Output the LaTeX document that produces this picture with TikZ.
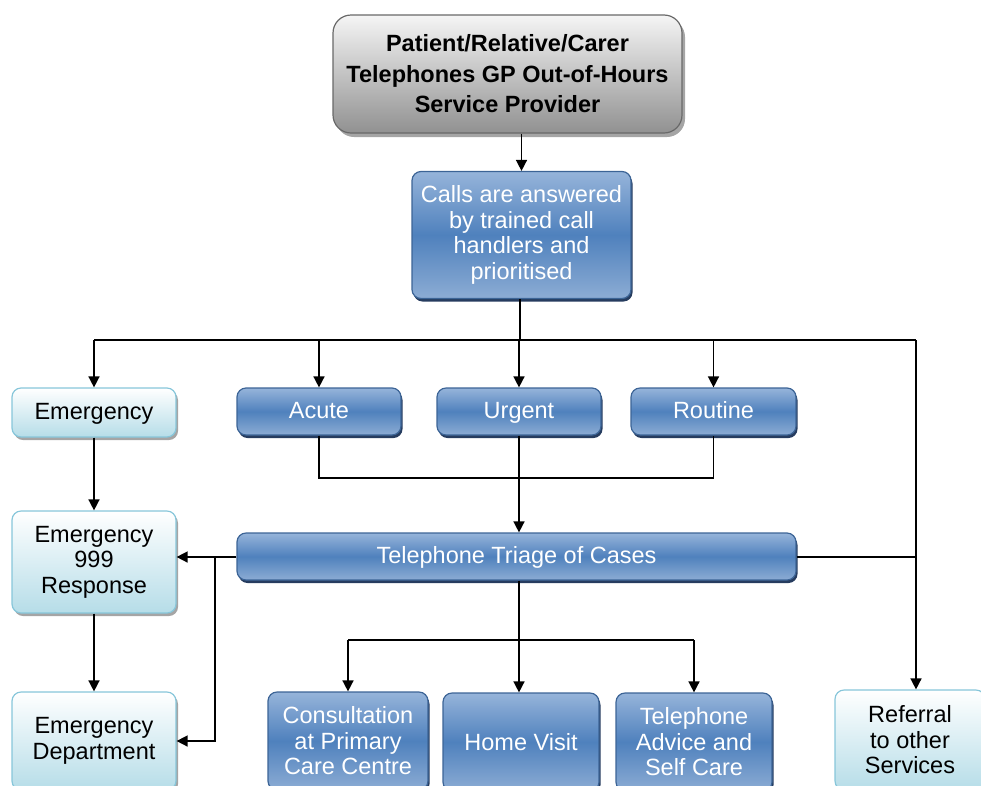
\documentclass[tikz,border=0pt]{standalone}
\usepackage{fontspec}
\setmainfont{Liberation Sans}
\usetikzlibrary{shadows,arrows.meta}

\begin{document}
\begin{tikzpicture}[x=1pt, y=-1pt, font=\fontsize{23.5}{25.5}\selectfont]

\definecolor{cBlueTop}{RGB}{150,180,218}
\definecolor{cBlueMid}{RGB}{79,129,189}
\definecolor{cBlueBot}{RGB}{140,172,212}
\definecolor{cBlueLine}{RGB}{60,100,150}
\definecolor{cBlueShade}{RGB}{38,60,95}
\definecolor{cCyanBot}{RGB}{182,221,232}
\definecolor{cCyanLine}{RGB}{135,198,218}
\definecolor{cGreyBot}{RGB}{145,145,145}
\definecolor{cGreyLine}{RGB}{105,105,105}
\definecolor{cShade}{RGB}{165,165,165}

\tikzset{
  box/.style      = {rounded corners=9pt, align=center, inner sep=0pt, line width=1.2pt},
  oneline/.style  = {text height=17pt, text depth=4pt},
  bluebox/.style  = {box, draw=cBlueLine, top color=cBlueTop, bottom color=cBlueBot,
                     middle color=cBlueMid, text=white,
                     drop shadow={shadow xshift=1.5pt, shadow yshift=-3pt, fill=cBlueShade, opacity=1}},
  cyanbox/.style  = {box, draw=cCyanLine, top color=white, bottom color=cCyanBot,
                     drop shadow={shadow xshift=2pt, shadow yshift=-3pt, fill=cShade, opacity=1}},
  greybox/.style  = {box, rounded corners=18pt, draw=cGreyLine, top color=white!96!black,
                     bottom color=cGreyBot,
                     drop shadow={shadow xshift=3pt, shadow yshift=-4pt, fill=cShade, opacity=1}},
  link/.style     = {line width=1.5pt},
  arr/.style      = {link, -{Triangle[length=11pt, width=11pt]}},
}

\useasboundingbox (0,0) rectangle (981,785);
\clip (0,0) rectangle (981,785);

%% ---------- the call, top ----------
\node[greybox, minimum width=349, minimum height=118,
      font=\fontsize{23.5}{30.5}\selectfont\bfseries] (caller) at (507.5,74)
  {Patient/Relative/Carer\\Telephones GP Out-of-Hours\\Service Provider};
\node[bluebox, minimum width=219, minimum height=127] (calls) at (521.5,235)
  {Calls are answered\\by trained call\\handlers and\\prioritised};

%% ---------- the priorities ----------
\node[cyanbox, oneline, minimum width=164, minimum height=49] (emerg)   at (94,412.5)  {Emergency};
\node[bluebox, oneline, minimum width=164, minimum height=47] (acute)   at (319,411.5) {Acute};
\node[bluebox, oneline, minimum width=164, minimum height=47] (urgent)  at (519,411.5) {Urgent};
\node[bluebox, oneline, minimum width=165, minimum height=47] (routine) at (713.5,411.5) {Routine};

\node[bluebox, oneline, minimum width=559, minimum height=47] (triage) at (516.5,556.5)
  {Telephone Triage of Cases};

%% ---------- the outcomes ----------
\node[cyanbox, minimum width=164, minimum height=102] (resp)    at (94,562)  {Emergency\\999\\Response};
\node[cyanbox, minimum width=164, minimum height=98]  (edept)   at (94,741)  {Emergency\\Department};
\node[bluebox, minimum width=160, minimum height=98]  (consult) at (348,741) {Consultation\\at Primary\\Care Centre};
\node[bluebox, minimum width=156, minimum height=98]  (home)    at (521,742) {Home Visit};
\node[bluebox, minimum width=156, minimum height=98]  (advice)  at (694,742) {Telephone\\Advice and\\Self Care};
\node[cyanbox, minimum width=150, minimum height=100] (refer)   at (910,740) {Referral\\to other\\Services};

%% ---------- the connectors ----------
\coordinate (bus)  at (520,340);
\coordinate (busR) at (916,340);
\coordinate (join) at (519,478);
\coordinate (fork) at (215,557);
\coordinate (tbus) at (519,640);

\draw[arr] (calls.north |- caller.south) -- (calls.north);
\draw[link] (calls.south -| bus) -- (bus);
\draw[link] (bus -| emerg.north) -- (busR);
\draw[arr] (bus -| emerg.north)   -- (emerg.north);
\draw[arr] (bus -| acute.north)   -- (acute.north);
\draw[arr] (bus -| urgent.north)  -- (urgent.north);
\draw[arr] (bus -| routine.north) -- (routine.north);
\draw[arr] (busR) -- (busR |- refer.north);

\draw[link] (acute.south) |- (routine.south |- join) -- (routine.south);
\draw[arr] (urgent.south) -- (urgent.south |- triage.north);

\draw[arr] (emerg) -- (resp);
\draw[arr] (resp) -- (edept);
\draw[arr] (triage.west |- fork) -- (resp.east |- fork);
\draw[arr] (fork) |- (edept.east);
\draw[link] (triage.east |- fork) -- (fork -| busR);

\draw[link] (tbus |- triage.south) -- (tbus);
\draw[link] (tbus -| consult.north) -- (tbus -| advice.north);
\draw[arr] (tbus -| consult.north) -- (consult.north);
\draw[arr] (tbus) -- (tbus |- home.north);
\draw[arr] (tbus -| advice.north) -- (advice.north);

\end{tikzpicture}
\end{document}
